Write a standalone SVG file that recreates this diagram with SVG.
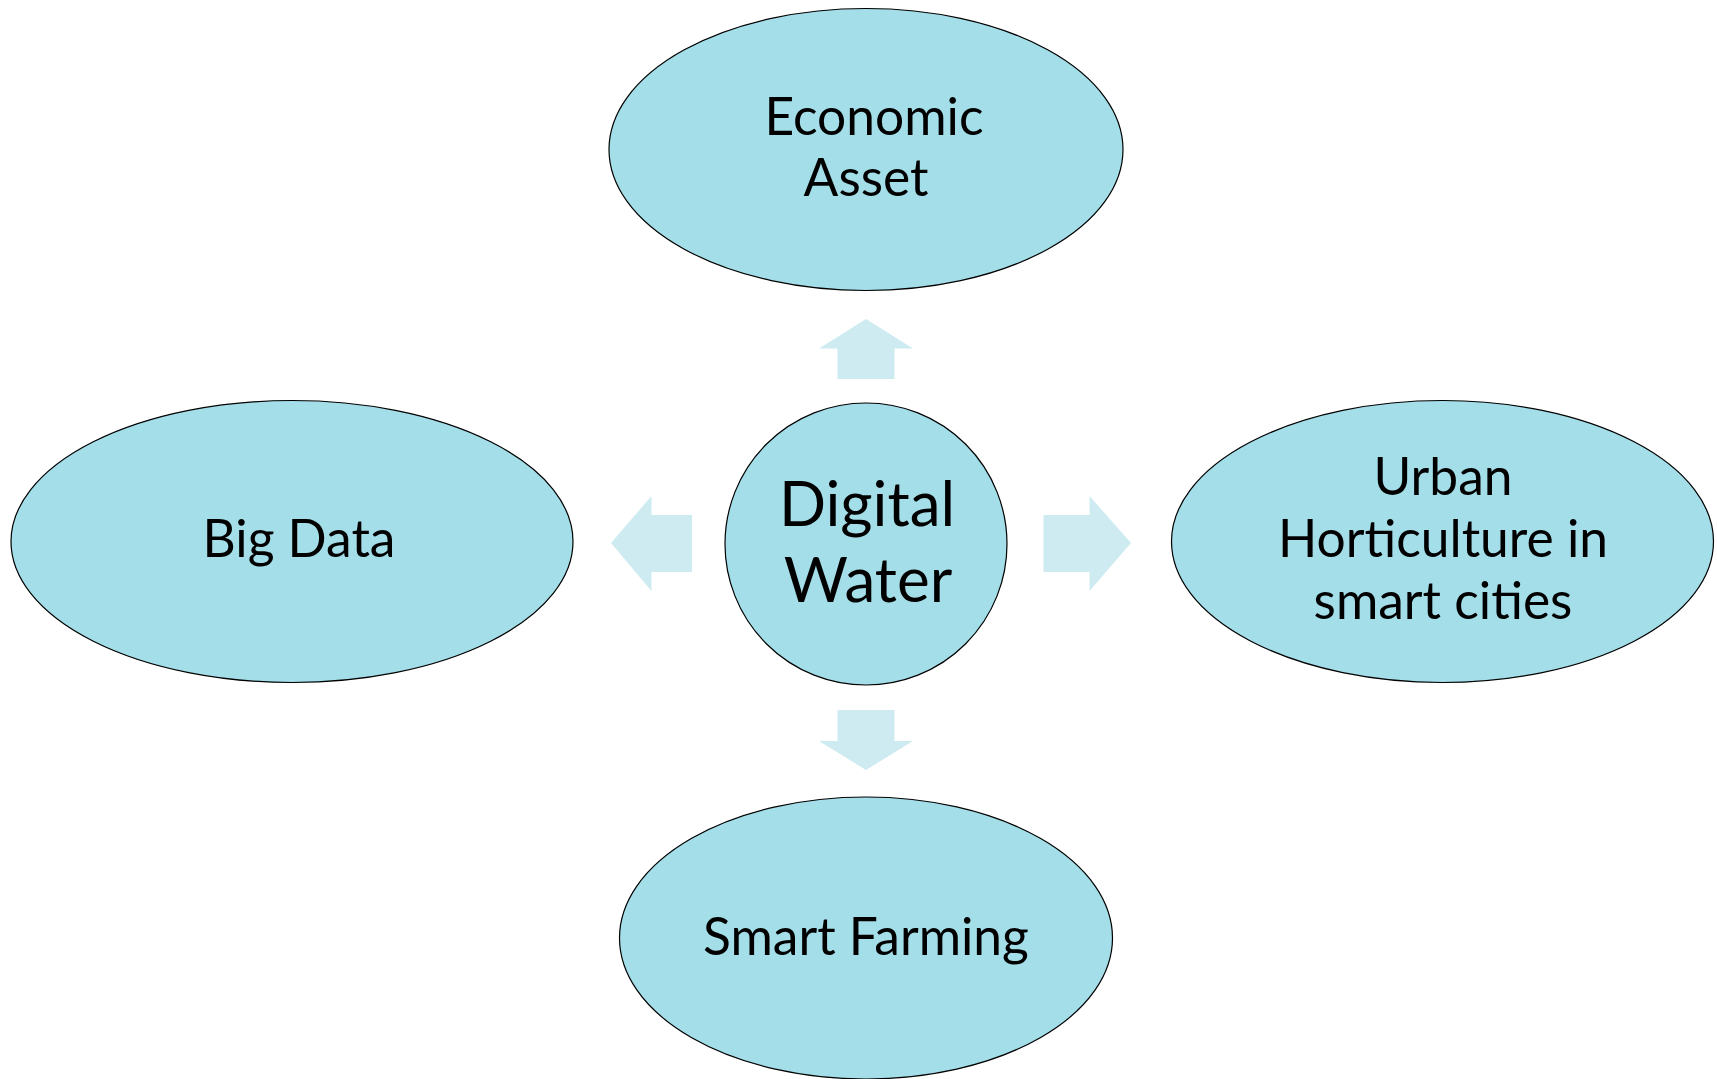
<svg xmlns="http://www.w3.org/2000/svg" width="1717" height="1079" viewBox="0 0 1717 1079">
<style>
.node{fill:#A3DEE9;stroke:#000;stroke-width:1.2}
.arr{fill:#CDEBF1;stroke:none}
.t{font-family:Lato,"Liberation Sans",sans-serif;font-size:51.5px;fill:#000;text-anchor:middle}
.tc{font-size:62px}
</style>
<rect width="1717" height="1079" fill="#fff"/>
<g id="connectors">
<polygon class="arr" points="866,319 913,348.5 894.5,348.5 894.5,379 837.5,379 837.5,348.5 819,348.5"/>
<polygon class="arr" points="866,770 913,741 894.5,741 894.5,710 837.5,710 837.5,741 819,741"/>
<polygon class="arr" points="611,543 651.5,496 651.5,515 692,515 692,572 651.5,572 651.5,591"/>
<polygon class="arr" points="1131,543 1089.5,496 1089.5,515 1043.5,515 1043.5,572 1089.5,572 1089.5,591"/>
</g>
<g id="economic-asset">
<ellipse class="node" cx="866" cy="149.5" rx="257" ry="141"/>
<text class="t" x="874" y="135">Economic</text>
<text class="t" x="866" y="196">Asset</text>
</g>
<g id="digital-water">
<ellipse class="node" cx="866" cy="544" rx="141" ry="141"/>
<text class="t tc" x="867" y="526">Digital</text>
<text class="t tc" x="868" y="602">Water</text>
</g>
<g id="big-data">
<ellipse class="node" cx="292" cy="541.5" rx="281" ry="141"/>
<text class="t" x="299" y="557">Big Data</text>
</g>
<g id="urban-horticulture">
<ellipse class="node" cx="1442.5" cy="541.5" rx="271" ry="141"/>
<text class="t" x="1443" y="495">Urban</text>
<text class="t" x="1443" y="557">Horticulture in</text>
<text class="t" x="1443" y="619">smart cities</text>
</g>
<g id="smart-farming">
<ellipse class="node" cx="866" cy="938" rx="246.5" ry="141"/>
<text class="t" x="866" y="955">Smart Farming</text>
</g>
</svg>
